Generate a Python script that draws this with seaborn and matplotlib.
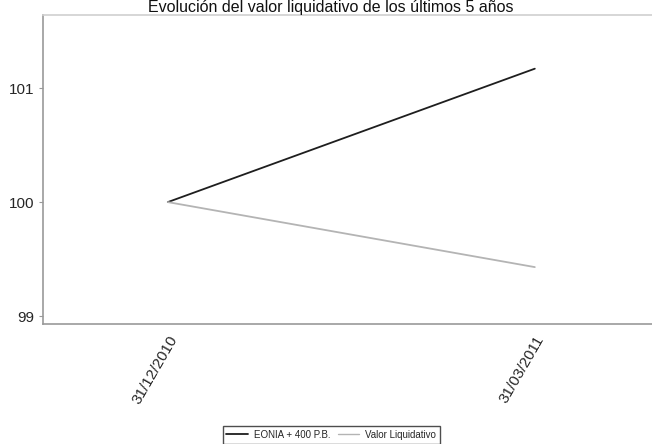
import matplotlib
matplotlib.use("Agg")
import matplotlib.pyplot as plt
import seaborn as sns
import pandas as pd

# data
fechas = ["31/12/2010", "31/03/2011"]
eonia = [100.0, 101.17]
valor_liq = [100.0, 99.43]
series = ["EONIA + 400 P.B.", "Valor Liquidativo"]
yticks = [99, 100, 101]

df = pd.DataFrame({
    "fecha": fechas * 2,
    "valor": eonia + valor_liq,
    "serie": [series[0]] * 2 + [series[1]] * 2,
})

sns.set_style("white")
plt.rcParams['font.family'] = ['Liberation Sans', 'DejaVu Sans']

fig = plt.figure(figsize=(6.52, 4.44), dpi=100)
ax = fig.add_axes([0.066, 0.27, 0.94, 0.696])

sns.lineplot(data=df, x="fecha", y="valor", hue="serie", ax=ax,
             palette={series[0]: "#1e1e1e", series[1]: "#b4b4b4"},
             linewidth=1.3, legend=False)

ax.set_xlim(-0.34, 1.33)
ax.set_ylim(98.93, 101.64)
ax.set_yticks(yticks)
ax.set_yticklabels([str(v) for v in yticks], fontsize=11)
ax.set_xticks([0, 1])
ax.set_xticklabels(fechas, fontsize=11, rotation=60, ha="right",
                   rotation_mode="anchor")
ax.set_xlabel("")
ax.set_ylabel("")
ax.tick_params(axis="y", left=True, length=3, color="#999999", pad=3)
ax.tick_params(axis="x", bottom=False, pad=3)

for s in ["left", "bottom"]:
    ax.spines[s].set_color("#999999")
    ax.spines[s].set_linewidth(1.2)
ax.spines["top"].set_color("#d0d0d0")
ax.spines["top"].set_linewidth(1.2)
ax.spines["right"].set_visible(False)

fig.text(0.508, 0.999, "Evolución del valor liquidativo de los últimos 5 años",
         ha="center", va="top", fontsize=11.5, color="#111111")

handles = [plt.Line2D([], [], color="#1e1e1e", lw=1.3),
           plt.Line2D([], [], color="#b4b4b4", lw=1)]
leg = fig.legend(handles, series, loc="upper center", bbox_to_anchor=(0.508, 0.052),
                 ncol=2, fontsize=7, frameon=True, fancybox=False,
                 handlelength=2.2, columnspacing=0.8, handletextpad=0.6,
                 borderpad=0.4)
leg.get_frame().set_edgecolor("#222222")
leg.get_frame().set_linewidth(1)

fig.savefig("out.png", dpi=100)
